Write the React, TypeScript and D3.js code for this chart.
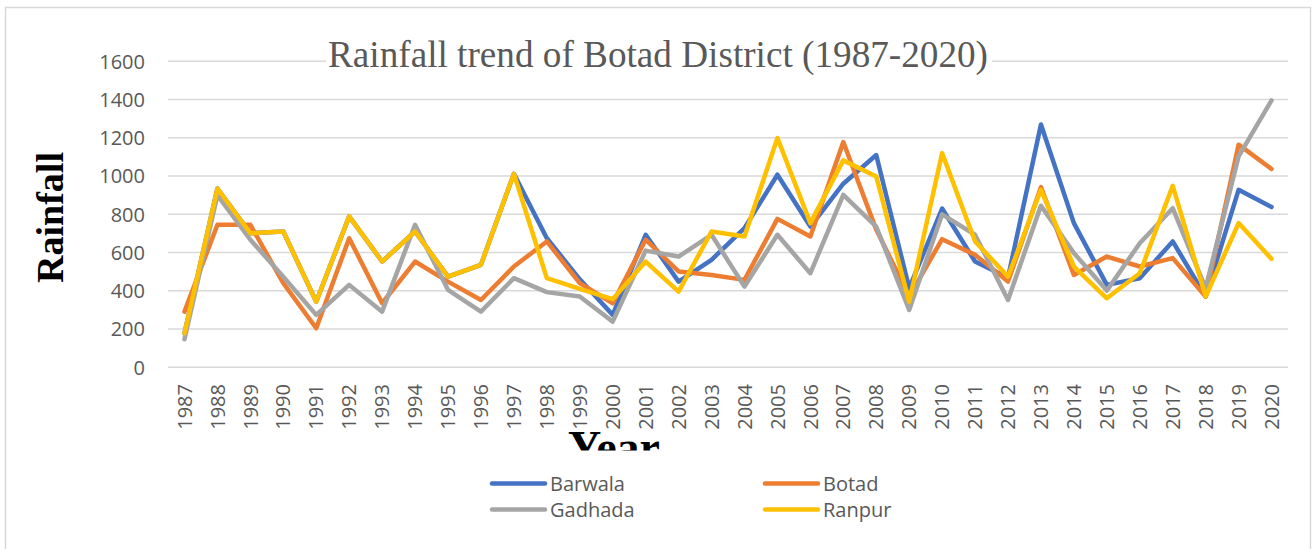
import React from "react";
import * as d3 from "d3";

const years: string[] = [
  "1987","1988","1989","1990","1991","1992","1993","1994","1995","1996",
  "1997","1998","1999","2000","2001","2002","2003","2004","2005","2006",
  "2007","2008","2009","2010","2011","2012","2013","2014","2015","2016",
  "2017","2018","2019","2020",
];

const barwala: number[] = [
  178, 935, 701, 710, 343, 789, 553, 710, 474, 536,
  1012, 675, 460, 274, 693, 448, 562, 728, 1007, 736,
  960, 1110, 414, 830, 553, 468, 1270, 754, 431, 466,
  658, 370, 928, 838,
];
const botad: number[] = [
  291, 745, 745, 440, 204, 675, 335, 553, 448, 352,
  527, 658, 440, 335, 667, 501, 483, 457, 776, 684,
  1178, 720, 370, 670, 588, 448, 942, 483, 579, 527,
  571, 370, 1164, 1037,
];
const gadhada: number[] = [
  147, 900, 667, 474, 274, 431, 291, 745, 405, 291,
  466, 393, 370, 239, 610, 579, 693, 422, 693, 492,
  902, 736, 300, 800, 693, 352, 845, 597, 401, 649,
  832, 414, 1103, 1396,
];
const ranpur: number[] = [
  178, 935, 701, 710, 343, 789, 553, 710, 474, 536,
  1012, 466, 410, 356, 553, 396, 710, 684, 1199, 754,
  1082, 998, 343, 1120, 658, 474, 928, 527, 361, 492,
  949, 370, 754, 567,
];

const seriesNames = ["Barwala", "Botad", "Gadhada", "Ranpur"];
const seriesColors = ["#4472C4", "#ED7D31", "#A5A5A5", "#FFC000"];
const seriesValues = [barwala, botad, gadhada, ranpur];
const yTicks = [0, 200, 400, 600, 800, 1000, 1200, 1400, 1600];

const titleText = "Rainfall trend of Botad District (1987-2020)";

export default function App() {
  const W = 1312;
  const H = 549;
  const x = d3.scaleBand<string>().domain(years).range([168, 1288]);
  const cx = (yr: string) => (x(yr) as number) + x.bandwidth() / 2;
  const y = d3.scaleLinear().domain([0, 1600]).range([367.3, 61.3]);
  const line = d3
    .line<number>()
    .x((_, i) => cx(years[i]))
    .y((d) => y(d));

  const sans = "'Open Sans', 'Noto Sans', sans-serif";
  const serif = "'Liberation Serif', 'DejaVu Serif', serif";
  const legendItems = [
    { i: 0, x: 492, y: 483.5 },
    { i: 1, x: 765, y: 483.5 },
    { i: 2, x: 492, y: 509.5 },
    { i: 3, x: 765, y: 509.5 },
  ];

  return (
    <svg
      width={W}
      height={H}
      style={{ position: "absolute", left: 0, top: 0, background: "#fff" }}
    >
      <defs>
        <clipPath id="yearClip">
          <rect x={0} y={0} width={W} height={450.5} />
        </clipPath>
      </defs>
      <rect x={0} y={0} width={W} height={H} fill="#fff" />
      <rect
        x={5.5}
        y={7.5}
        width={1305}
        height={600}
        fill="none"
        stroke="#d9d9d9"
        strokeWidth={1.5}
      />
      {/* gridlines */}
      {yTicks.map((t) => (
        <line
          key={t}
          x1={168}
          x2={1288}
          y1={y(t)}
          y2={y(t)}
          stroke="#d9d9d9"
          strokeWidth={1.4}
        />
      ))}
      {/* y tick labels */}
      {yTicks.map((t) => (
        <text
          key={"l" + t}
          x={145}
          y={y(t)}
          dy="0.36em"
          textAnchor="end"
          fontFamily={sans}
          fontSize={20}
          fill="#595959"
        >
          {t}
        </text>
      ))}
      {/* x tick labels */}
      {years.map((yr) => (
        <text
          key={yr}
          transform={`translate(${cx(yr)},384) rotate(-90)`}
          dy="0.36em"
          textAnchor="end"
          fontFamily={sans}
          fontSize={20}
          fill="#595959"
        >
          {yr}
        </text>
      ))}
      {/* title */}
      <rect x={326} y={34} width={666} height={42} fill="#fff" />
      <text
        x={328}
        y={67}
        fontFamily={serif}
        fontSize={37}
        fill="#595959"
        textLength={660}
        lengthAdjust="spacingAndGlyphs"
      >
        {titleText}
      </text>
      {/* series */}
      {seriesValues.map((vals, i) => (
        <path
          key={seriesNames[i]}
          d={line(vals) || ""}
          fill="none"
          stroke={seriesColors[i]}
          strokeWidth={4.5}
          strokeLinejoin="round"
          strokeLinecap="round"
        />
      ))}
      {/* axis titles */}
      <text
        transform="translate(63,217.5) rotate(-90)"
        textAnchor="middle"
        fontFamily={serif}
        fontWeight="bold"
        fontSize={38}
        fill="#000"
      >
        Rainfall
      </text>
      <g clipPath="url(#yearClip)">
        <text
          x={614}
          y={463}
          textAnchor="middle"
          fontFamily={serif}
          fontWeight="bold"
          fontSize={46}
          fill="#000"
        >
          Year
        </text>
      </g>
      {/* legend */}
      {legendItems.map((it) => (
        <g key={seriesNames[it.i]}>
          <line
            x1={it.x}
            x2={it.x + 53}
            y1={it.y}
            y2={it.y}
            stroke={seriesColors[it.i]}
            strokeWidth={4.5}
            strokeLinecap="round"
          />
          <text
            x={it.x + 58}
            y={it.y}
            dy="0.36em"
            fontFamily={sans}
            fontSize={20}
            fill="#595959"
          >
            {seriesNames[it.i]}
          </text>
        </g>
      ))}
    </svg>
  );
}
